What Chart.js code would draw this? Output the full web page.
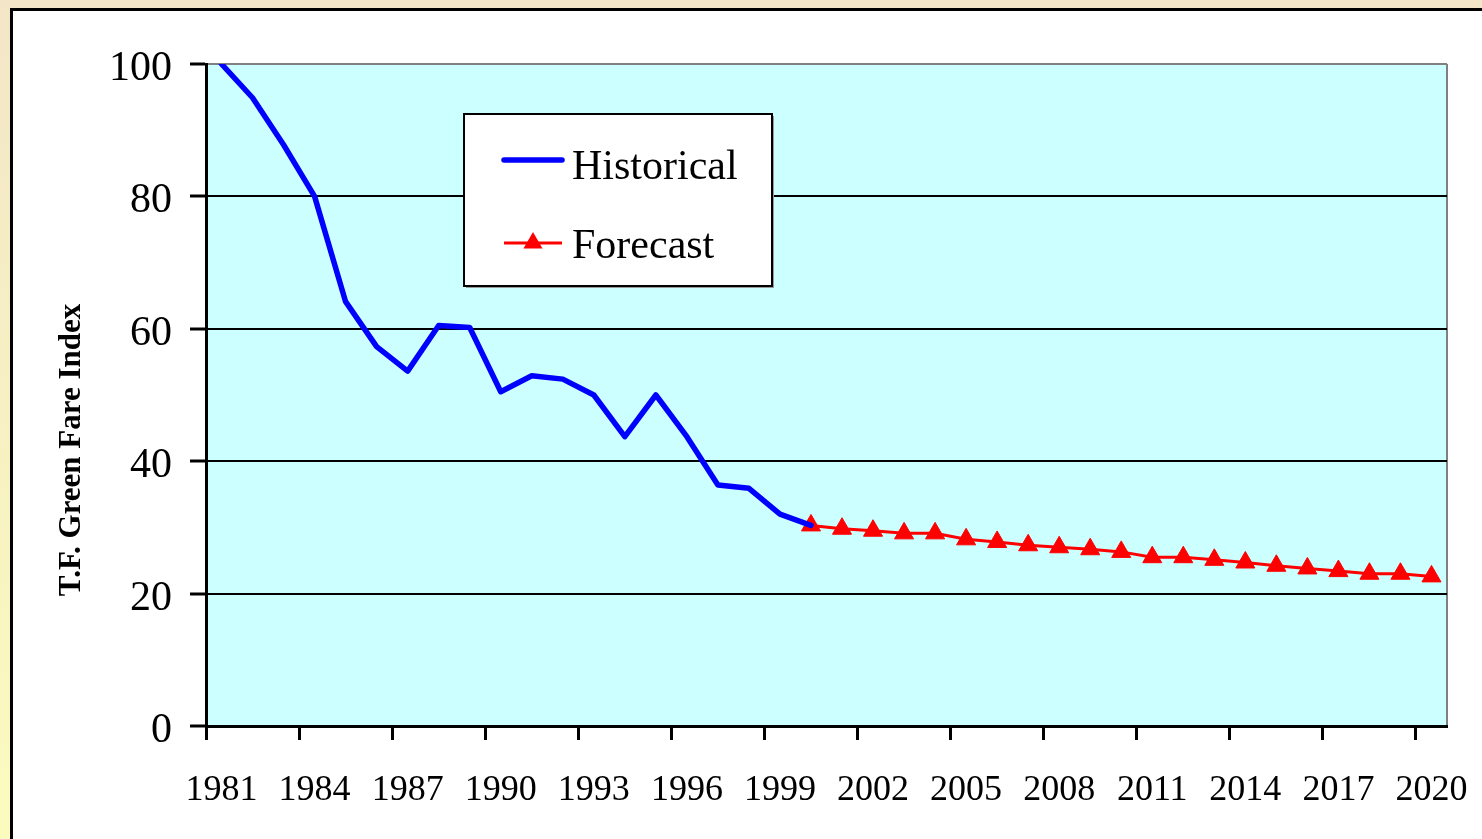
<!DOCTYPE html>
<html>
<head>
<meta charset="utf-8">
<script src="https://cdn.jsdelivr.net/npm/chart.js@4.4.1/dist/chart.umd.min.js"></script>
<style>
  html, body { margin: 0; padding: 0; }
  body {
    width: 1482px; height: 839px; overflow: hidden; position: relative;
    background: linear-gradient(to bottom, #f3e6c8, #fbfbbe);
  }
  #panel {
    position: absolute; left: 10px; top: 8px; width: 1500px; height: 860px;
    background: #fff; border: 3px solid #000; box-sizing: border-box;
  }
  #wrap { position: absolute; left: 0; top: 0; width: 1482px; height: 839px; }
</style>
</head>
<body>
<div id="panel"></div>
<div id="wrap"><canvas id="fareChart"></canvas></div>
<script>
// data
const years = [1981, 1982, 1983, 1984, 1985, 1986, 1987, 1988, 1989, 1990,
  1991, 1992, 1993, 1994, 1995, 1996, 1997, 1998, 1999, 2000,
  2001, 2002, 2003, 2004, 2005, 2006, 2007, 2008, 2009, 2010,
  2011, 2012, 2013, 2014, 2015, 2016, 2017, 2018, 2019, 2020];

const histYears = [1981, 1982, 1983, 1984, 1985, 1986, 1987, 1988, 1989, 1990,
  1991, 1992, 1993, 1994, 1995, 1996, 1997, 1998, 1999, 2000];
const histValues = [100, 94.9, 87.8, 80.0, 64.1, 57.3, 53.6, 60.5, 60.2, 50.5,
  52.9, 52.4, 50.0, 43.7, 50.0, 43.7, 36.4, 35.9, 32.0, 30.3];

const foreYears = [2000, 2001, 2002, 2003, 2004, 2005, 2006, 2007, 2008, 2009,
  2010, 2011, 2012, 2013, 2014, 2015, 2016, 2017, 2018, 2019, 2020];
const foreValues = [30.3, 29.8, 29.5, 29.1, 29.1, 28.2, 27.8, 27.3, 27.0, 26.7,
  26.3, 25.5, 25.5, 25.1, 24.7, 24.2, 23.8, 23.4, 23.0, 23.0, 22.6];

const yTicks = [0, 20, 40, 60, 80, 100];
const yTitle = "T.F. Green Fare Index";

const SERIF = "'Liberation Serif', 'Times New Roman', serif";

// fondo del area del grafico + borde gris a la derecha
const plotBg = {
  id: "plotBg",
  beforeDraw(chart) {
    const { ctx, chartArea: a } = chart;
    ctx.save();
    ctx.fillStyle = "#ccffff";
    ctx.fillRect(a.left, a.top, a.right - a.left, a.bottom - a.top);
    ctx.strokeStyle = "#808080";
    ctx.lineWidth = 2;
    ctx.beginPath();
    ctx.moveTo(a.right, a.top);
    ctx.lineTo(a.right, a.bottom);
    ctx.stroke();
    ctx.restore();
  },
};

// titulo del eje Y (va un poco mas abajo que el centro)
const yTitlePlugin = {
  id: "yTitlePlugin",
  afterDraw(chart) {
    const { ctx, chartArea: a } = chart;
    ctx.save();
    ctx.translate(a.left - 134, a.top + (a.bottom - a.top) * 0.583);
    ctx.rotate(-Math.PI / 2);
    ctx.font = "bold 31px " + SERIF;
    ctx.fillStyle = "#000";
    ctx.textAlign = "center";
    ctx.textBaseline = "middle";
    ctx.fillText(yTitle, 0, 0);
    ctx.restore();
  },
};

// leyenda dentro del grafico
const boxLegend = {
  id: "boxLegend",
  afterDraw(chart) {
    const { ctx, chartArea: a } = chart;
    const x = a.left + 258, y = a.top + 50, w = 308, h = 172;
    ctx.save();
    ctx.fillStyle = "#9a9a9a";
    ctx.fillRect(x + 2, y + 2, w, h);
    ctx.fillStyle = "#fff";
    ctx.fillRect(x, y, w, h);
    ctx.strokeStyle = "#000";
    ctx.lineWidth = 2;
    ctx.strokeRect(x, y, w, h);

    ctx.font = "42px " + SERIF;
    ctx.fillStyle = "#000";
    ctx.textBaseline = "alphabetic";
    ctx.textAlign = "left";

    chart.data.datasets.forEach((ds, i) => {
      const ly = y + (i === 0 ? 46 : 129);
      ctx.strokeStyle = ds.borderColor;
      ctx.lineWidth = ds.borderWidth;
      ctx.lineCap = i === 0 ? "round" : "butt";
      ctx.beginPath();
      ctx.moveTo(x + 40, ly);
      ctx.lineTo(x + 98, ly);
      ctx.stroke();
      if (ds.pointRadius > 0) {
        ctx.fillStyle = ds.pointBackgroundColor;
        Chart.helpers.drawPoint(ctx, { pointStyle: ds.pointStyle, radius: 11, borderWidth: 0 }, x + 69, ly);
      }
      ctx.fillStyle = "#000";
      ctx.fillText(ds.label, x + 108, ly + (i === 0 ? 19 : 15));
    });
    ctx.restore();
  },
};

new Chart(document.getElementById("fareChart"), {
  type: "line",
  data: {
    labels: years.map(String),
    datasets: [
      {
        label: "Historical",
        data: histYears.map((yr, i) => ({ x: String(yr), y: histValues[i] })),
        borderColor: "#0000ff",
        borderWidth: 5.5,
        borderJoinStyle: "round",
        borderCapStyle: "round",
        pointRadius: 0,
        tension: 0,
        fill: false,
      },
      {
        label: "Forecast",
        data: foreYears.map((yr, i) => ({ x: String(yr), y: foreValues[i] })),
        borderColor: "#ff0000",
        borderWidth: 3,
        pointStyle: "triangle",
        pointRadius: 11,
        pointBackgroundColor: "#ff0000",
        pointBorderColor: "#ff0000",
        pointBorderWidth: 1,
        tension: 0,
        fill: false,
      },
    ],
  },
  options: {
    responsive: true,
    maintainAspectRatio: false,
    animation: false,
    layout: { padding: { left: 0, right: 35, top: 64, bottom: 0 } },
    plugins: {
      legend: { display: false },
      tooltip: { enabled: false },
    },
    scales: {
      x: {
        type: "category",
        offset: true,
        afterFit: (scale) => {
          scale.height = 113;
          scale.paddingLeft = 0;
          scale.paddingRight = 0;
        },
        grid: {
          offset: true,
          drawOnChartArea: false,
          drawTicks: true,
          tickLength: 14,
          tickWidth: 3,
          tickColor: (c) => (c.index % 3 === 0 ? "#000" : "rgba(0,0,0,0)"),
        },
        border: { display: true, color: "#000", width: 3 },
        ticks: {
          autoSkip: false,
          maxRotation: 0,
          padding: 29,
          color: "#000",
          font: { family: SERIF, size: 36 },
          callback: function (val, idx) {
            return idx % 3 === 0 ? this.getLabelForValue(val) : "";
          },
        },
      },
      y: {
        min: 0,
        max: 100,
        afterFit: (scale) => { scale.width = 206; },
        afterBuildTicks: (scale) => { scale.ticks = yTicks.map((v) => ({ value: v })); },
        grid: {
          color: (c) => {
            const v = c.tick ? c.tick.value : null;
            if (v === 0) return "rgba(0,0,0,0)";
            if (v === 100) return "#808080";
            return "#000";
          },
          lineWidth: 2,
          drawTicks: true,
          tickLength: 16,
          tickWidth: 3,
          tickColor: "#000",
        },
        border: { display: true, color: "#000", width: 3 },
        ticks: {
          padding: 18,
          labelOffset: 5,
          color: "#000",
          font: { family: SERIF, size: 42 },
        },
      },
    },
  },
  plugins: [plotBg, yTitlePlugin, boxLegend],
});
</script>
</body>
</html>
